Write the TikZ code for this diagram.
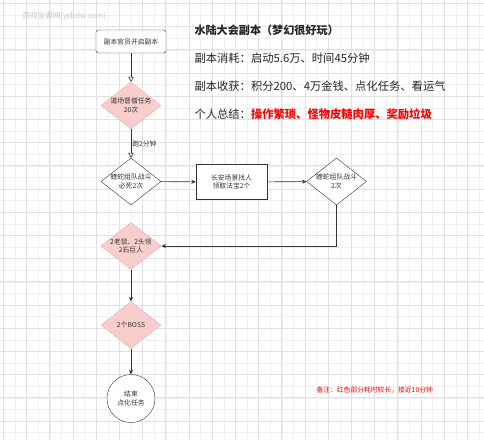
\documentclass[tikz,border=0pt]{standalone}
\usepackage{fontspec}
\setmainfont{Noto Sans CJK SC}
\usetikzlibrary{arrows.meta,shapes.geometric,positioning}
\definecolor{PinkF}  {RGB}{248,206,204}
\definecolor{PinkD}  {RGB}{230,176,174}
\definecolor{LineG}  {RGB}{51, 51, 51}
\definecolor{AlertR} {RGB}{255, 0,  0}
\definecolor{GridMin}{RGB}{240,240,240}
\definecolor{GridMaj}{RGB}{225,225,225}
\definecolor{MarkG}  {RGB}{200,200,200}

\begin{document}
\begin{tikzpicture}[x=1pt,y=-1pt,
    boxtxt/.style={font=\fontsize{6.8}{8.2}\selectfont,align=center,text=LineG},
    roundbox/.style={boxtxt,draw=LineG,rounded corners=2.5pt,minimum width=70pt,minimum height=23pt,fill=white},
    plainbox/.style={boxtxt,draw=LineG,minimum width=71pt,minimum height=35pt,fill=white},
    choice/.style={boxtxt,diamond,aspect=1.3,inner sep=0pt,minimum width=60pt,minimum height=47pt,draw=LineG,fill=white},
    hotchoice/.style={choice,draw=PinkD,fill=PinkF},
    endcirc/.style={boxtxt,circle,draw=LineG,minimum size=48pt,fill=white},
    flow/.style={LineG,line width=0.6pt,-{Stealth[length=4.5pt,width=4pt]}},
    openflow/.style={LineG,line width=0.6pt,-{Triangle[open,length=5pt,width=5.5pt]}},
    infotxt/.style={anchor=west,font=\fontsize{11.3}{13}\selectfont,text=black!85}]
        \useasboundingbox (0,0) rectangle (484,440);
        \fill[white] (0,0) rectangle (484,440);
        % background grid
        \foreach \g in {0,...,41}{
          \draw[GridMin,line width=0.35pt] ({3.3+11.6*\g},0) -- ({3.3+11.6*\g},440);
          \draw[GridMin,line width=0.35pt] (0,{3.3+11.6*\g}) -- (484,{3.3+11.6*\g});}
        \foreach \g in {0,...,20}{
          \draw[GridMaj,line width=0.45pt] ({3.3+23.2*\g},0) -- ({3.3+23.2*\g},440);
          \draw[GridMaj,line width=0.45pt] (0,{3.3+23.2*\g}) -- (484,{3.3+23.2*\g});}
        \node[anchor=west,font=\fontsize{7.6}{9}\selectfont,text=MarkG] (mark) at (19,16) {游戏宝典网[yxbdw.com]};
        % flow
        \node[roundbox] (start) at (131,41.5) {副本官员开启副本};
        \node[hotchoice] (daochang) at (131,105.5) {道场督僧任务\\20次};
        \node[choice] (zudui) at (131,181.5) {蝰蛇组队战斗\\必死2次};
        \node[plainbox] (zhaoren) at (231.5,182) {长安场景找人\\领取法宝2个};
        \node[choice] (zuduib) at (336.5,181.5) {蝰蛇组队战斗\\2次};
        \node[hotchoice] (xiaoguai) at (131,246) {2老鼠、2头领\\2石巨人};
        \node[hotchoice] (boss) at (131,325) {2个BOSS};
        \node[endcirc] (jieshu) at (131,398.5) {结束\\点化任务};
        \draw[openflow] (start) -- (daochang);
        \draw[openflow] (daochang) -- node[right,boxtxt,inner sep=1pt]{跑2分钟} (zudui);
        \draw[flow] (zudui) -- (zhaoren);
        \draw[flow] (zhaoren) -- (zuduib);
        \draw[flow] (zuduib.south) |- (xiaoguai.east);
        \draw[flow] (xiaoguai) -- (boss);
        \draw[flow] (boss) -- (jieshu);
        % summary text
        \node[infotxt,font=\bfseries\fontsize{11.1}{13}\selectfont] (title) at (191,30) {水陆大会副本（梦幻很好玩）};
        \node[infotxt] (cost) at (191,58) {副本消耗：启动5.6万、时间45分钟};
        \node[infotxt] (gain) at (191,86.5) {副本收获：积分200、4万金钱、点化任务、看运气};
        \node[infotxt] (verdict) at (191,114) {个人总结：\textcolor{AlertR}{\bfseries 操作繁琐、怪物皮糙肉厚、奖励垃圾}};
        \node[anchor=west,font=\fontsize{6.8}{8}\selectfont,text=AlertR] (note) at (313,390) {备注：红色部分耗时较长，接近10分钟};
      \end{tikzpicture}
\end{document}
